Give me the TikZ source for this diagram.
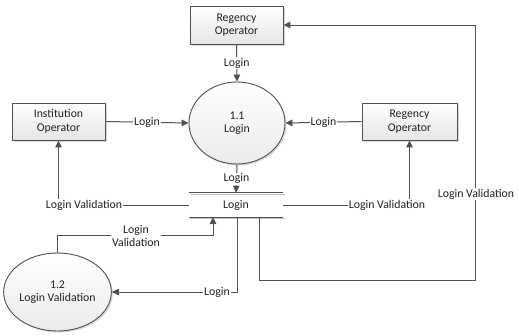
\documentclass[tikz,border=0pt]{standalone}
\usepackage{fontspec}
\setmainfont{Carlito}
\usetikzlibrary{arrows.meta,shapes.geometric,shadows,calc}
\definecolor{ln}{HTML}{505050}
\definecolor{tx}{HTML}{222222}
\begin{document}
\begin{tikzpicture}[x=1pt,y=-1pt,
  every node/.style={font=\fontsize{11.8}{13.5}\selectfont, text=tx},
  entity/.style={rectangle, draw=ln, line width=0.9pt, top color=white, bottom color=gray!20,
    drop shadow={shadow xshift=1.5pt, shadow yshift=-1.5pt, fill=gray!60}, align=center, inner sep=2pt},
  proc/.style={ellipse, draw=ln, line width=0.9pt, top color=white, bottom color=gray!16,
    drop shadow={shadow xshift=1.5pt, shadow yshift=-1.5pt, fill=gray!60}, align=center, inner sep=0pt},
  flow/.style={draw=ln, line width=1pt, -{Triangle[length=7pt,width=6.5pt]}},
  line/.style={draw=ln, line width=1pt},
  lab/.style={fill=white, inner sep=1pt, align=center}]
\useasboundingbox (0,0) rectangle (519,335);

\node[entity, minimum width=93pt, minimum height=38pt] (reg1) at (236.5,25) {Regency\\Operator};
\node[entity, minimum width=93pt, minimum height=37pt] (inst) at (58.5,121.5) {Institution\\Operator};
\node[entity, minimum width=95pt, minimum height=37pt] (reg2) at (409.5,121.5) {Regency\\Operator};
\node[proc, minimum width=96pt, minimum height=82pt] (p11) at (237,123) {1.1\\Login};
\node[proc, minimum width=92pt, minimum height=78pt] (p12) at (57.5,292) {1.2\\Login Validation};
\node[rectangle, minimum width=94pt, minimum height=24pt, inner sep=0pt] (ds) at (236,205) {Login};

% data store lines with shadow
\draw[gray!45, line width=1.2pt] ($(ds.north west)+(1.5,1.5)$) -- ($(ds.north east)+(1.5,1.5)$);
\draw[gray!45, line width=1.2pt] ($(ds.south west)+(1.5,1.5)$) -- ($(ds.south east)+(1.5,1.5)$);
\draw[line] (ds.north west) -- (ds.north east);
\draw[line] (ds.south west) -- (ds.south east);

% flows into 1.1
\draw[flow] (reg1.south) -- node[lab] {Login} (p11.north);
\draw[flow] (inst.east) -- node[lab] {Login} (p11.west);
\draw[flow] (reg2.west) -- node[lab] {Login} (p11.east);
\draw[flow] (p11.south) -- node[lab] {Login} (ds.north);

% login validation to operators
\coordinate (c1) at (inst.south |- ds.west);
\draw[flow] (ds.west) -- (c1) -- (inst.south);
\node[lab] (lv1) at (84,205) {Login Validation};
\coordinate (c2) at (reg2.south |- ds.east);
\draw[flow] (ds.east) -- (c2) -- (reg2.south);
\node[lab] (lv2) at (387,205) {Login Validation};

% far right loop to top regency operator
\coordinate (d0) at (259,217);
\coordinate (d1) at (259,280);
\coordinate (d2) at (475,280);
\coordinate (d3) at (475,25);
\draw[flow] (d0) -- (d1) -- (d2) -- (d3) -- (reg1.east);
\node[lab] (lv3) at (476,194) {Login Validation};

% to 1.2
\coordinate (e0) at (237,217);
\coordinate (e1) at (237,292);
\draw[flow] (e0) -- (e1) -- (p12.east);
\node[lab] (l5) at (217,292) {Login};

% from 1.2 to data store
\coordinate (f1) at (57.5,235);
\coordinate (f2) at (213,235);
\coordinate (f3) at (213,217);
\draw[flow] (p12.north) -- (f1) -- (f2) -- (f3);
\node[lab] (lv4) at (136,236) {Login\\Validation};
\end{tikzpicture}
\end{document}
